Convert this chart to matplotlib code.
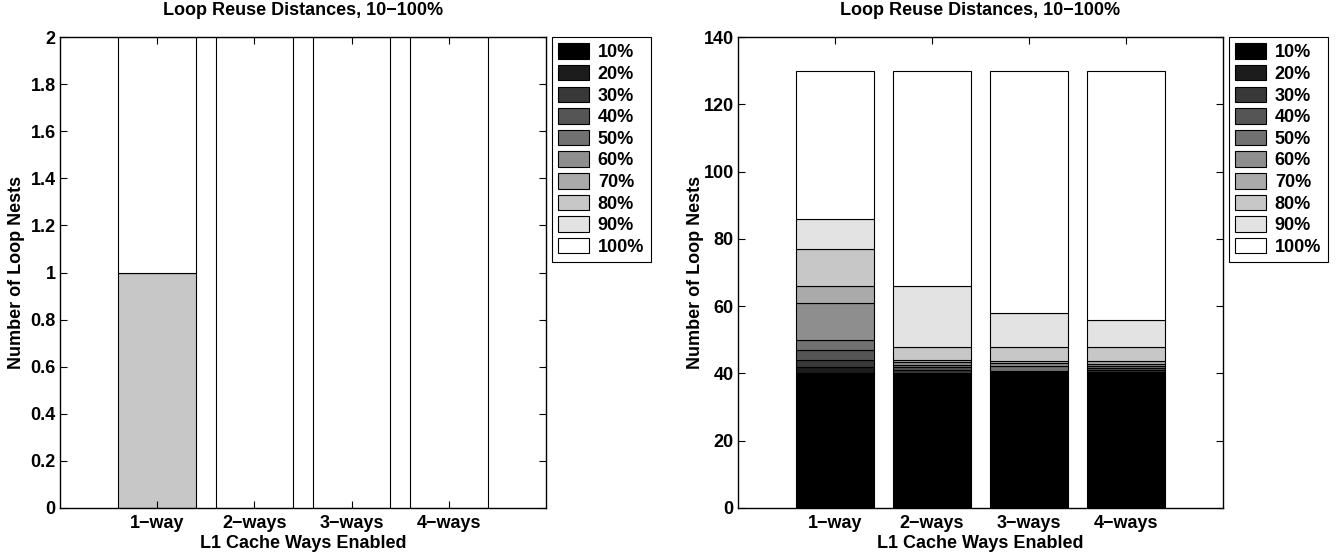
import matplotlib
matplotlib.use("Agg")
import matplotlib.pyplot as plt
import numpy as np

plt.rcParams['font.family'] = ['Liberation Sans', 'DejaVu Sans']
plt.rcParams['font.weight'] = 'bold'

categories = ['1−way', '2−ways', '3−ways', '4−ways']
series_labels = ['10%', '20%', '30%', '40%', '50%', '60%', '70%', '80%', '90%', '100%']

# Left chart: rows = categories, cols = series
left_values = [
    [0, 0, 0, 0, 0, 0, 0, 1, 0, 1],
    [0, 0, 0, 0, 0, 0, 0, 0, 0, 2],
    [0, 0, 0, 0, 0, 0, 0, 0, 0, 2],
    [0, 0, 0, 0, 0, 0, 0, 0, 0, 2],
]
# Right chart
right_values = [
    [40, 2.0, 2.0, 3.0, 3.0, 11.0, 5.0, 11.0, 9.0, 44.0],
    [40, 0.2, 0.8, 0.8, 0.8, 0.8, 0.7, 3.9, 18.0, 64.0],
    [40, 0.2, 0.2, 0.2, 1.6, 0.8, 0.8, 4.2, 10.0, 72.0],
    [40, 0.3, 0.6, 0.6, 0.7, 0.7, 0.7, 4.4, 8.0, 74.0],
]
title = 'Loop Reuse Distances, 10−100%'
xlabel = 'L1 Cache Ways Enabled'
ylabel = 'Number of Loop Nests'
left_yticks = [0, 0.2, 0.4, 0.6, 0.8, 1, 1.2, 1.4, 1.6, 1.8, 2]
left_yticklabels = ['0', '0.2', '0.4', '0.6', '0.8', '1', '1.2', '1.4', '1.6', '1.8', '2']
right_yticks = [0, 20, 40, 60, 80, 100, 120, 140]

colors = [plt.cm.gray(i / 9) for i in range(10)]

W, H = 1339, 554
fig = plt.figure(figsize=(W / 100, H / 100), dpi=100)
FS = 13

def draw(ax, values, ylim, yticks, yticklabels):
    vals = np.array(values, dtype=float)
    x = np.arange(1, len(categories) + 1)
    bottom = np.zeros(len(categories))
    for j, lab in enumerate(series_labels):
        ax.bar(x, vals[:, j], width=0.8, bottom=bottom, color=colors[j],
               edgecolor='black', linewidth=0.8, label=lab)
        bottom += vals[:, j]
    ax.set_xlim(0, 5)
    ax.set_ylim(*ylim)
    ax.set_xticks(x)
    ax.set_xticklabels(categories, fontsize=FS, fontweight='bold')
    ax.set_yticks(yticks)
    ax.set_yticklabels(yticklabels, fontsize=FS, fontweight='bold')
    ax.tick_params(direction='in', length=5, width=0.8, top=True, right=True, pad=3)
    ax.tick_params(axis='x', pad=5)
    for s in ax.spines.values():
        s.set_linewidth(1.0)
    ax.set_title(title, fontsize=FS, fontweight='bold', pad=16)
    ax.set_xlabel(xlabel, fontsize=FS, fontweight='bold')
    ax.set_ylabel(ylabel, fontsize=FS, fontweight='bold')
    ax.xaxis.set_label_coords(0.5, -0.057)
    ax.yaxis.set_label_coords(-0.071, 0.5)
    leg = ax.legend(loc='upper left', bbox_to_anchor=(1.012, 1.0), borderaxespad=0,
                    prop={'weight': 'bold', 'size': FS}, fancybox=False,
                    edgecolor='black', framealpha=1, handlelength=1.7, handleheight=0.95,
                    labelspacing=0.2, handletextpad=0.5, borderpad=0.35)
    leg.get_frame().set_linewidth(0.8)

ax1 = fig.add_axes([60 / W, (H - 508) / H, 486 / W, 471 / H])
draw(ax1, left_values, (0, 2), left_yticks, left_yticklabels)
ax2 = fig.add_axes([738 / W, (H - 508) / H, 485 / W, 471 / H])
draw(ax2, right_values, (0, 140), right_yticks, [str(t) for t in right_yticks])

fig.savefig('out.png', dpi=100)
